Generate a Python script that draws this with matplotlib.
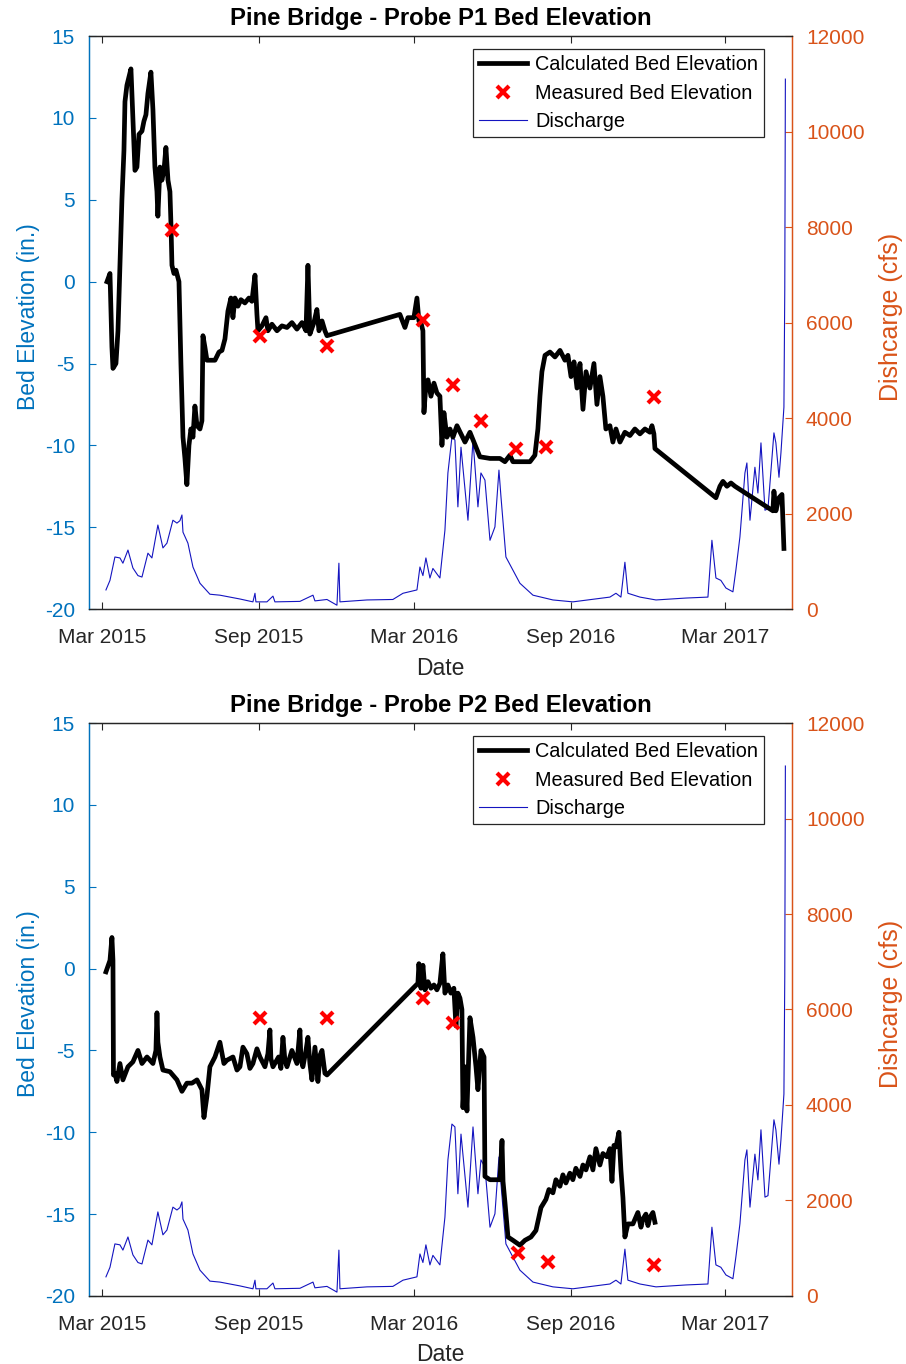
import numpy as np
import matplotlib
matplotlib.use('Agg')
import matplotlib.pyplot as plt
from matplotlib.lines import Line2D

plt.rcParams['font.family'] = ['Liberation Sans', 'DejaVu Sans']
plt.rcParams['axes.unicode_minus'] = False

# ---------------- data (days since 2015-03-01) ----------------
BASE = np.datetime64('2015-03-01')

P1_DAYS = [5.9, 9.4, 11.7, 12.9, 16.4, 18.8, 21.1, 23.4, 25.8, 27, 29.3, 31.7, 34, 36.3, 38.7, 41, 43.4,
           46.9, 49.2, 51.6, 53.9, 57.4, 59.8, 62.1, 64.5, 65.6, 68, 70.3, 72.7, 75, 77.4, 79.7, 80.9, 82.1,
           84.4, 86.8, 90.3, 92.6, 95, 97.3, 99.6, 102, 104.3, 106.7, 109, 111.4, 114.9, 117.2, 118.4, 120.7,
           123.1, 132.5, 137.2, 140.7, 144.2, 147.7, 151.2, 153.6, 155.9, 159.4, 162.9, 167.6, 172.3, 175.8,
           179.4, 181.7, 182.9, 187.6, 192.3, 194.6, 199.3, 205.2, 211, 216.9, 222.7, 228.6, 234.5, 239.2,
           241.5, 243.8, 248.5, 252, 254.4, 258, 261.4, 263.8, 349.3, 352.9, 355.2, 358.7, 365.7, 369.3,
           371.6, 374, 376.3, 377.5, 379.8, 382.2, 385.7, 389.2, 392.7, 396.2, 398.6, 400.9, 404.4, 408,
           411.5, 416.2, 420.9, 425.6, 431.4, 436.1, 443.1, 454.9, 466.6, 472.4, 478.3, 481.8, 490, 501.8,
           507.6, 511.1, 513.5, 515.8, 519.4, 525.2, 531.1, 537, 542.8, 546.3, 549.9, 553.4, 556.9, 560.4,
           563.9, 567.5, 572.1, 576.8, 580.3, 583.8, 587.3, 590.8, 595.5, 599, 602.6, 607.3, 613.1, 619,
           624.8, 630.7, 636.6, 642.4, 644.8, 647.1, 648.3, 719.8, 724.5, 728, 732.7, 737.4, 742.1, 786.6,
           787.8, 790.1, 793.7, 797.2, 799.5]
P1_ELEV = [0, 0.5, -4, -5.3, -5.0, -3, 1, 5, 8, 11, 12, 12.5, 13, 10, 6.8, 7, 9,
           9.2, 9.8, 10.2, 11.5, 12.8, 10.5, 7, 5.5, 4, 7, 6.2, 6.8, 8.2, 6.2, 5.5, 3.5, 1,
           0.5, 0.7, 0, -5, -9.5, -10.8, -12.4, -10, -9, -9.5, -7.6, -8.8, -9, -8.5, -3.3, -4,
           -4.8, -4.8, -4.3, -4.2, -3.5, -1.8, -1.0, -2.2, -1.0, -1.5, -1.1, -1.3, -1.0, -1.2,
           0.4, -2, -3, -2.7, -2.2, -3.0, -2.6, -3.0, -2.7, -2.8, -2.5, -2.9, -2.5, -3.0,
           1.0, -3.2, -2.5, -1.7, -3.0, -2.4, -3.0, -3.3, -2.0, -2.5, -2.8, -2.2, -2.2, -1.0,
           -2.4, -2.5, -3.0, -8.0, -6.3, -6.0, -7.0, -6.2, -6.8, -7.0, -10.0, -8.0, -9.5, -9.0,
           -9.5, -8.8, -9.3, -9.8, -9.2, -9.8, -10.7, -10.8, -10.8, -11.0, -10.6, -11.0, -11.0, -11.0,
           -10.6, -9.0, -7.0, -5.5, -4.5, -4.3, -4.6, -4.2, -4.8, -4.5, -5.8, -4.9, -6.5, -5.0,
           -7.8, -5.5, -6.5, -5.0, -7.5, -5.8, -7.0, -9.0, -8.8, -9.8, -9.0, -9.8, -9.2, -9.4,
           -9.0, -9.3, -9.0, -9.2, -8.8, -9.3, -10.2, -13.2, -12.5, -12.2, -12.5, -12.3, -12.5, -14.0,
           -12.8, -14.0, -13.2, -13.0, -16.3]

M1_DAYS = [82, 185, 264, 376, 411, 444, 485, 520, 647]
M1_ELEV = [3.15, -3.3, -3.9, -2.35, -6.3, -8.5, -10.2, -10.1, -7.05]

P2_DAYS = [4.7, 9.4, 11.7, 12.9, 13.5, 15.2, 17.6, 21.1, 24.6, 30.5, 36.3, 42.2, 46.9, 52.8, 59.8, 63.3,
           64.5, 65.6, 68, 71.5, 79.7, 87.9, 93.8, 99.6, 105.5, 111.4, 117.2, 119.6, 123.1, 126.6, 132.5,
           138.3, 143, 146.5, 153.6, 158.3, 161.8, 165.3, 169.9, 173.5, 177, 181.7, 185.2, 191.1, 194.6,
           196.9, 198.1, 200.5, 207.1, 209.8, 212.2, 214.5, 216.9, 222.7, 228.6, 232.1, 233.3, 235.6,
           239.2, 241.5, 243.8, 246.2, 249.7, 253.2, 255.6, 258, 261.4, 263.8, 370.4, 371.6, 374, 376.3,
           378.7, 382.2, 385.7, 389.2, 392.7, 396.2, 399.7, 402.1, 405.6, 409.1, 412.6, 415, 417.3,
           419.7, 422, 423.2, 425.6, 427.9, 431.4, 435, 438.5, 440.8, 444.3, 447.9, 449, 454.9, 466.6,
           469, 470.2, 472.5, 476.0, 481.8, 490, 495.9, 502.9, 508.8, 514.7, 520.5, 524.0, 528.7, 532.2,
           536.9, 540.4, 543.9, 548.6, 552.1, 555.6, 560.4, 563.9, 567.4, 572.1, 575.6, 579.1, 581.5,
           583.8, 587.3, 592.0, 595.5, 597.9, 600.2, 602.6, 606.1, 608.4, 610.8, 613.1, 616.6, 622.5,
           628.3, 631.9, 634.2, 637.7, 640.1, 642.4, 645.9, 648.3]
P2_ELEV = [-0.2, 0.5, 1.9, 0.5, -6.5, -6.4, -6.9, -5.8, -6.8, -6.0, -5.7, -5.0, -5.8, -5.4, -5.8, -5.0,
           -2.7, -4.5, -5.4, -6.2, -6.3, -6.8, -7.5, -7.0, -7.0, -6.8, -7.4, -9.1, -7.8, -6.0, -5.4,
           -4.5, -5.8, -5.6, -5.4, -6.2, -6.0, -4.8, -5.2, -6.1, -5.8, -4.9, -5.4, -6.0, -5.2,
           -3.75, -5.5, -6.0, -5.4, -6.1, -4.2, -5.6, -6.0, -5.0, -5.8, -3.75, -5.5, -6.0,
           -5.0, -4.2, -5.8, -6.8, -4.8, -6.9, -5.3, -5.0, -6.4, -6.5, -0.9, 0.3, -1.2, 0.2,
           -1.3, -0.8, -1.2, -1.0, -1.3, -0.9, 0.9, -1.5, -1.0, -1.5, -1.2, -3.5, -1.5,
           -1.8, -2.5, -8.5, -6.0, -8.7, -3.0, -4.2, -6.0, -7.4, -5.0, -5.4, -12.7, -12.9, -12.9,
           -10.5, -13.0, -14.3, -16.4, -16.6, -16.9, -16.6, -16.4, -16.0, -14.6, -14.1, -13.5, -13.7, -12.9,
           -13.3, -12.6, -13.1, -12.5, -12.9, -12.2, -12.7, -12.0, -12.3, -11.5, -12.3, -11.0, -11.5,
           -12.0, -11.3, -11.5, -11.0, -13.0, -10.8, -10.9, -10.0, -12.3, -14.0, -16.4, -15.6, -15.6,
           -14.9, -15.8, -15.3, -15.0, -15.7, -15.2, -14.9, -15.5]

M2_DAYS = [185, 264, 376, 411, 488, 523, 647]
M2_ELEV = [-3.0, -3.0, -1.8, -3.3, -17.4, -17.9, -18.1]

Q_DAYS = [4.7, 9.4, 15.2, 21.1, 24.6, 30.5, 36.3, 42.2, 46.9, 53.9, 58.6, 65.6, 71.5, 76.2, 83.2, 87.9,
          91.4, 93.8, 95, 100.8, 106.7, 114.9, 126.6, 138.3, 161.8, 177, 179.4, 180.5, 193.4, 200.5,
          202.8, 232.1, 247.4, 249.7, 263.8, 275.5, 277.8, 279, 310.7, 341.1, 352.9, 369.3, 372.8,
          376.3, 379.8, 384.5, 388, 396.2, 402.1, 405.6, 410.3, 413.8, 417.3, 420.9, 429.1, 435,
          440.8, 444.3, 449, 454.9, 460.7, 465.4, 467.8, 473.6, 490, 505.3, 528.7, 552.1, 595.5,
          602.6, 608.4, 613.1, 616.6, 630.7, 649.5, 684.6, 710.4, 715.1, 719.8, 725.6, 731.5,
          739.7, 743.2, 747.9, 753.8, 756.1, 759.7, 765.5, 769, 772.6, 777.3, 780.8, 787.8, 790.1,
          793.7, 796, 799.5, 800.5, 801.2]
Q_CFS = [400, 600, 1090, 1070, 960, 1235, 860, 700, 670, 1170, 1070, 1760, 1280, 1380, 1860, 1800,
         1850, 1970, 1610, 1380, 880, 540, 310, 290, 210, 150, 330, 150, 150, 270,
         150, 160, 290, 170, 200, 80, 960, 150, 190, 200, 330, 400, 880,
         700, 1070, 650, 850, 650, 1650, 2850, 3600, 3540, 2140, 3390, 1860, 3540,
         2140, 2850, 2700, 1440, 1720, 2910, 2350, 1090, 540, 290, 190, 150, 250,
         330, 250, 980, 330, 250, 190, 230, 250, 1440, 650, 600, 440,
         360, 820, 1510, 2850, 3060, 1860, 2970, 2430, 3480, 2070, 2100, 3690, 3480,
         2760, 3270, 4230, 6700, 11100]

XTICK_DAYS = [0, 184, 366, 550, 731]
XTICK_LABELS = ['Mar 2015', 'Sep 2015', 'Mar 2016', 'Sep 2016', 'Mar 2017']
XLIM_DAYS = [-15.2, 809]

TITLES = ['Pine Bridge - Probe P1 Bed Elevation', 'Pine Bridge - Probe P2 Bed Elevation']
LEGEND_LABELS = ['Calculated Bed Elevation', 'Measured Bed Elevation', 'Discharge']

# ---------------- style ----------------
BLUE = (0.0, 0.447, 0.741)
ORANGE = (0.851, 0.325, 0.098)
GRAY = (0.15, 0.15, 0.15)
QBLUE = '#1414C0'


def to_dates(days):
    return BASE + np.round(np.asarray(days, dtype=float) * 24).astype('timedelta64[h]')


def draw(ax, title, days, elev, mdays, melev):
    ax2 = ax.twinx()
    ax2.plot(to_dates(Q_DAYS), Q_CFS, color=QBLUE, lw=0.8)
    ax2.set_ylim(0, 12000)
    ax2.set_yticks(np.arange(0, 12001, 2000))
    ax2.tick_params(axis='y', direction='in', length=5, width=0.8, colors=ORANGE,
                    labelsize=15, pad=10)
    ax2.set_ylabel('Dishcarge (cfs)', color=ORANGE, fontsize=18)
    ax2.yaxis.set_label_coords(1.123, 0.51)

    ax.plot(to_dates(days), elev, color='black', lw=3.4)
    ax.plot(to_dates(mdays), melev, ls='none', marker='x', color='red', ms=9, mew=3)
    ax.set_zorder(ax2.get_zorder() + 1)
    ax.patch.set_visible(False)

    ax.set_ylim(-20, 15)
    ax.set_yticks(np.arange(-20, 16, 5))
    ax.set_xlim(to_dates(XLIM_DAYS))
    ax.set_xticks(to_dates(XTICK_DAYS))
    ax.set_xticklabels(XTICK_LABELS)
    ax.tick_params(axis='y', direction='in', length=5, width=0.8, colors=BLUE,
                   labelsize=15, pad=10)
    ax.tick_params(axis='x', direction='in', length=5, width=0.8, colors=GRAY,
                   labelsize=15, pad=14, top=True)
    ax.set_ylabel('Bed Elevation (in.)', color=BLUE, fontsize=16.5)
    ax.yaxis.set_label_coords(-0.070, 0.51)
    ax.set_xlabel('Date', color=GRAY, fontsize=16.5)
    ax.xaxis.set_label_coords(0.5, -0.083)
    ax.set_title(title, fontsize=17.2, fontweight='bold', color='black', pad=8)

    for a in (ax, ax2):
        a.spines['left'].set_color(BLUE)
        a.spines['right'].set_color(ORANGE)
        a.spines['top'].set_color(GRAY)
        a.spines['bottom'].set_color(GRAY)
        for s in a.spines.values():
            s.set_linewidth(0.9)

    handles = [Line2D([], [], color='black', lw=3.4),
               Line2D([], [], ls='none', marker='x', color='red', ms=9, mew=3),
               Line2D([], [], color=QBLUE, lw=0.8)]
    leg = ax.legend(handles, LEGEND_LABELS, loc='upper right', bbox_to_anchor=(0.960, 0.977),
                    fontsize=14.3, frameon=True, fancybox=False, edgecolor=GRAY, framealpha=1,
                    borderpad=0.3, labelspacing=0.48, handlelength=2.4, handletextpad=0.4,
                    borderaxespad=0)
    leg.get_frame().set_linewidth(0.9)


fig = plt.figure(figsize=(9.06, 13.64), dpi=100)
ax_top = fig.add_axes([0.0982, 0.5535, 0.776, 0.420])
ax_bot = fig.add_axes([0.0982, 0.0499, 0.776, 0.420])
draw(ax_top, TITLES[0], P1_DAYS, P1_ELEV, M1_DAYS, M1_ELEV)
draw(ax_bot, TITLES[1], P2_DAYS, P2_ELEV, M2_DAYS, M2_ELEV)

fig.savefig('out.png', dpi=100)
